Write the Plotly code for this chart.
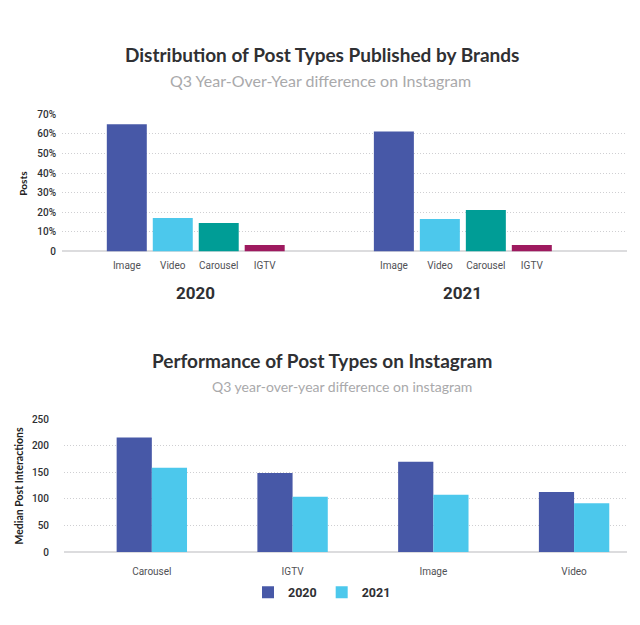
import plotly.graph_objects as go

# --- top chart: share of published posts by type (%)
POST_TYPES = ["Image", "Video", "Carousel", "IGTV"]
TYPE_COLORS = ["#4758a7", "#4cc8ec", "#009d96", "#9e1a5f"]
SHARE_2020 = [64.9, 17.0, 14.5, 3.3]
SHARE_2021 = [61.2, 16.5, 21.1, 3.3]
SHARE_TICKS = [0, 10, 20, 30, 40, 50, 60, 70]
SHARE_TICK_TEXT = ["0", "10%", "20%", "30%", "40%", "50%", "60%", "70%"]

# --- bottom chart: median post interactions
PERF_TYPES = ["Carousel", "IGTV", "Image", "Video"]
INTERACTIONS_2020 = [216, 149, 170, 113]
INTERACTIONS_2021 = [159, 104, 108, 92]
INTERACTION_TICKS = [0, 50, 100, 150, 200, 250]

W, H = 640, 625
OFFSET = 8  # page body margin in the screenshot
TITLE_FONT = "Lato"
TICK_FONT = "Roboto"
DARK = "#2f3033"
GREY_TXT = "#a9a9ab"
GRID = "#cfcfd2"
BASE = "#dcdcde"


def px_x(x):
    return (x - OFFSET) / W


def px_y(y):
    return (H - (y - OFFSET)) / H


fig = go.Figure()

fig.add_trace(go.Bar(x=POST_TYPES, y=SHARE_2020, marker_color=TYPE_COLORS, width=0.87,
                     xaxis="x", yaxis="y", showlegend=False))
fig.add_trace(go.Bar(x=POST_TYPES, y=SHARE_2021, marker_color=TYPE_COLORS, width=0.87,
                     xaxis="x2", yaxis="y", showlegend=False))
fig.add_trace(go.Bar(x=PERF_TYPES, y=INTERACTIONS_2020, name="2020", marker_color="#4758a7",
                     xaxis="x3", yaxis="y2"))
fig.add_trace(go.Bar(x=PERF_TYPES, y=INTERACTIONS_2021, name="2021", marker_color="#4cc8ec",
                     xaxis="x3", yaxis="y2"))
fig.update_traces(marker_line_width=0)

cat_axis = dict(type="category", showgrid=False, showline=False, zeroline=False,
                ticks="outside", ticklen=5, tickcolor="rgba(0,0,0,0)",
                tickfont=dict(family=TICK_FONT, size=10, color="#505155"), fixedrange=True)
val_axis = dict(showgrid=True, gridcolor=GRID, griddash="1px,2px", gridwidth=1,
                zeroline=True, zerolinecolor=BASE, zerolinewidth=2, showline=False,
                tickfont=dict(family=TICK_FONT, size=10, color=DARK, weight=500))

fig.update_layout(
    width=W, height=H,
    margin=dict(l=0, r=0, t=0, b=0),
    paper_bgcolor="white", plot_bgcolor="white",
    barmode="group", bargap=0.5, bargroupgap=0,
    xaxis=dict(cat_axis, domain=[px_x(62), px_x(329.5)], range=[-1.41, 4.41], anchor="y"),
    xaxis2=dict(cat_axis, domain=[px_x(329.5), px_x(627)], range=[-1.40, 5.07], anchor="y"),
    yaxis=dict(val_axis, domain=[px_y(250.7), px_y(111)], range=[0, 70],
               ticklabelstandoff=5,
               tickvals=SHARE_TICKS, ticktext=SHARE_TICK_TEXT, anchor="x"),
    xaxis3=dict(cat_axis, ticklen=10, domain=[px_x(64), px_x(627)],
                range=[-0.624, 3.376], anchor="y2"),
    yaxis2=dict(val_axis, domain=[px_y(556.7), px_y(421.7)], range=[0, 250],
                ticklabelstandoff=14, tickvals=INTERACTION_TICKS, anchor="x3"),
    legend=dict(orientation="h", x=px_x(322), xanchor="center", y=px_y(598), yanchor="middle",
                font=dict(family=TICK_FONT, size=12.5, color=DARK, weight="bold"),
                itemwidth=30, traceorder="normal"),
    showlegend=True,
)


def note(text, x, y, size, color, weight="normal", angle=0, family=TITLE_FONT, **kw):
    fig.add_annotation(text=text, x=x, y=y, showarrow=False, textangle=angle,
                       xanchor="center", yanchor="middle",
                       font=dict(family=family, size=size, color=color, weight=weight), **kw)


note("Distribution of Post Types Published by Brands", px_x(321.7), px_y(50), 19, DARK, "bold",
     xref="paper", yref="paper")
note("Q3 Year-Over-Year difference on Instagram", px_x(320), px_y(76.5), 16, GREY_TXT,
     xref="paper", yref="paper")
note("Performance of Post Types on Instagram", px_x(321.7), px_y(361.7), 19, DARK, "bold",
     xref="paper", yref="paper")
note("Q3 year-over-year difference on instagram", px_x(341.7), px_y(388), 14, GREY_TXT,
     xref="paper", yref="paper")

note("Posts", px_x(22.7), px_y(181), 10, "#222", "bold", angle=-90, xref="paper", yref="paper")
note("Median Post Interactions", px_x(19), px_y(490), 10.5, "#222", "bold", angle=-90,
     xref="paper", yref="paper")

note("2020", 1.5, px_y(293), 17, DARK, "bold", family=TICK_FONT, xref="x", yref="paper")
note("2021", 1.5, px_y(293), 17, DARK, "bold", family=TICK_FONT, xref="x2", yref="paper")

fig.write_html("out.html")
